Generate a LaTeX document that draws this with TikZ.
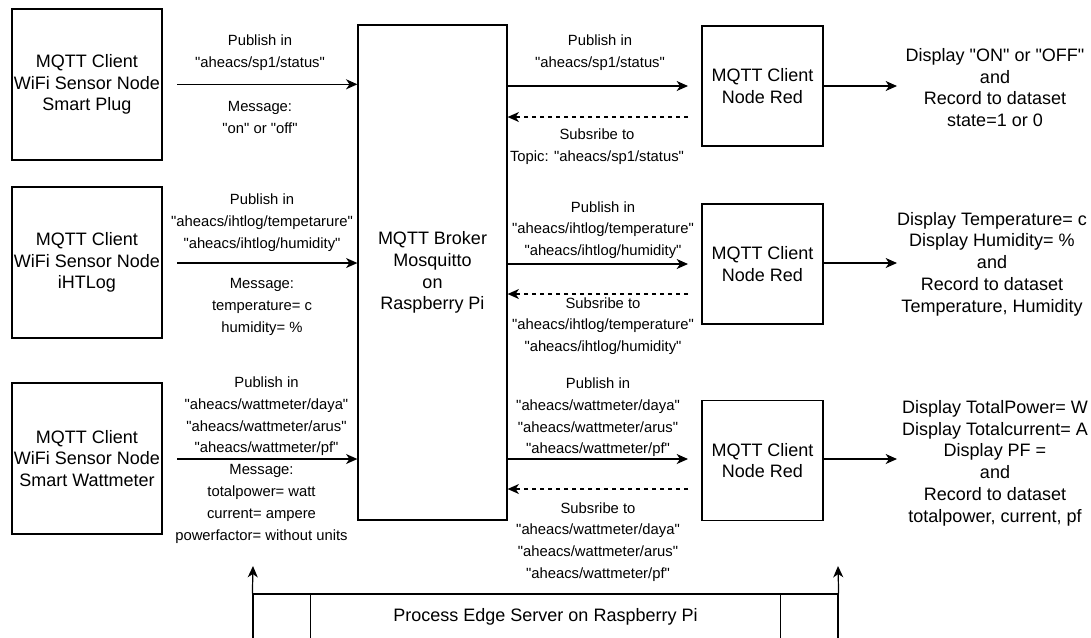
\documentclass[tikz,border=0pt]{standalone}
\usepackage{fontspec}
\setmainfont{Liberation Sans}
\newfontfamily\lsans{Liberation Sans}
\usetikzlibrary{arrows.meta}
\begin{document}
\begin{tikzpicture}[x=0.75pt,y=-0.75pt,
  line width=0.9pt,
  boxnode/.style={draw, line width=0.9pt, align=center, inner sep=0pt, font=\lsans\fontsize{13.5}{16.3}\selectfont},
  lbl/.style={align=center, inner sep=0pt, font=\lsans\fontsize{11.1}{16.3}\selectfont},
  big/.style={align=center, inner sep=0pt, font=\lsans\fontsize{13.5}{16.3}\selectfont},
  arr/.style={-{Stealth[length=8.5pt,width=7.5pt,inset=2.5pt]}},
  darr/.style={arr, dash pattern=on 3pt off 3pt},
]
\useasboundingbox (0,0) rectangle (1091,637);
\clip (0,0) rectangle (1091,637);

% left clients
\node[boxnode, minimum width=112.5pt, minimum height=113.25pt] (c1) at (87,84.5) {MQTT Client\\WiFi Sensor Node\\Smart Plug};
\node[boxnode, minimum width=112.5pt, minimum height=113.25pt] (c2) at (87,262.5) {MQTT Client\\WiFi Sensor Node\\iHTLog};
\node[boxnode, minimum width=112.5pt, minimum height=113.25pt] (c3) at (87,458.5) {MQTT Client\\WiFi Sensor Node\\Smart Wattmeter};

% broker
\node[boxnode, minimum width=111.75pt, minimum height=371.25pt] (broker) at (432.5,272.5) {MQTT Broker\\Mosquitto\\on\\Raspberry Pi};

% node red clients
\node[boxnode, minimum width=90.75pt, minimum height=90pt] (nr1) at (762.5,86) {MQTT Client\\Node Red};
\node[boxnode, minimum width=90.75pt, minimum height=90pt] (nr2) at (762.5,264) {MQTT Client\\Node Red};
\node[boxnode, minimum width=90.75pt, minimum height=90pt] (nr3) at (762.5,460.5) {MQTT Client\\Node Red};

% left arrows
\coordinate (s1) at (177,84.3);
\coordinate (s2) at (177,263);
\coordinate (s3) at (177,459);
\draw[arr] (s1) -- (s1 -| broker.west);
\draw[arr] (s2) -- (s2 -| broker.west);
\draw[arr] (s3) -- (s3 -| broker.west);

% left labels
\node[lbl] (l1a) at (260,52.5) {Publish in\\"aheacs/sp1/status"};
\node[lbl] (l1b) at (260,117.5) {Message:\\"on" or "off"};
\node[lbl] (l2a) at (262,222.5) {Publish in\\"aheacs/ihtlog/tempetarure"\\"aheacs/ihtlog/humidity"};
\node[lbl] (l2b) at (262,307) {Message:\\temperature= c\\humidity= \%};
\node[lbl] (l3a) at (266.5,416.5) {Publish in\\"aheacs/wattmeter/daya"\\"aheacs/wattmeter/arus"\\"aheacs/wattmeter/pf"};
\node[lbl] (l3b) at (261.5,504) {Message:\\totalpower= watt\\current= ampere\\powerfactor= without units};

% right arrows (broker to node red)
\coordinate (p1) at (688,86);
\coordinate (q1) at (688,117);
\coordinate (p2) at (688,264);
\coordinate (q2) at (688,294);
\coordinate (p3) at (688,459);
\coordinate (q3) at (688,489);
\draw[arr] (p1 -| broker.east) -- (p1);
\draw[darr] (q1) -- (q1 -| broker.east);
\draw[arr] (p2 -| broker.east) -- (p2);
\draw[darr] (q2) -- (q2 -| broker.east);
\draw[arr] (p3 -| broker.east) -- (p3);
\draw[darr] (q3) -- (q3 -| broker.east);

% right labels
\node[lbl] (r1a) at (600,52.5) {Publish in\\"aheacs/sp1/status"};
\node[lbl] (r1b) at (597,147) {Subsribe to\\Topic: "aheacs/sp1/status"};
\node[lbl] (r2a) at (603,230) {Publish in\\"aheacs/ihtlog/temperature"\\"aheacs/ihtlog/humidity"};
\node[lbl] (r2b) at (603,326) {Subsribe to\\"aheacs/ihtlog/temperature"\\"aheacs/ihtlog/humidity"};
\node[lbl] (r3a) at (598,417.5) {Publish in\\"aheacs/wattmeter/daya"\\"aheacs/wattmeter/arus"\\"aheacs/wattmeter/pf"};
\node[lbl] (r3b) at (598,542) {Subsribe to\\"aheacs/wattmeter/daya"\\"aheacs/wattmeter/arus"\\"aheacs/wattmeter/pf"};

% outputs
\coordinate (o1) at (897,86);
\coordinate (o2) at (897,263);
\coordinate (o3) at (897,459);
\draw[arr] (nr1.east |- o1) -- (o1);
\draw[arr] (nr2.east |- o2) -- (o2);
\draw[arr] (nr3.east |- o3) -- (o3);

\node[big] (t1) at (995,87.5) {Display "ON" or "OFF"\\and\\Record to dataset\\state=1 or 0};
\node[big] (t2) at (992,264) {Display Temperature= c\\Display Humidity= \%\\and\\Record to dataset\\Temperature, Humidity};
\node[big] (t3) at (995,463) {Display TotalPower= W\\Display Totalcurrent= A\\Display PF = \\and\\Record to dataset\\totalpower, current, pf};

% process edge server
\node[draw, big, minimum width=438.75pt, minimum height=34.5pt] (proc) at (545.5,617) {Process Edge Server on Raspberry Pi};
\draw ([xshift=43.5pt]proc.north west) -- ([xshift=43.5pt]proc.south west);
\draw ([xshift=-43.5pt]proc.north east) -- ([xshift=-43.5pt]proc.south east);
\coordinate (u1) at (253,566);
\coordinate (u2) at (838,566);
\draw[arr] (proc.north west) -- (u1);
\draw[arr] (proc.north east) -- (u2);
\end{tikzpicture}
\end{document}
